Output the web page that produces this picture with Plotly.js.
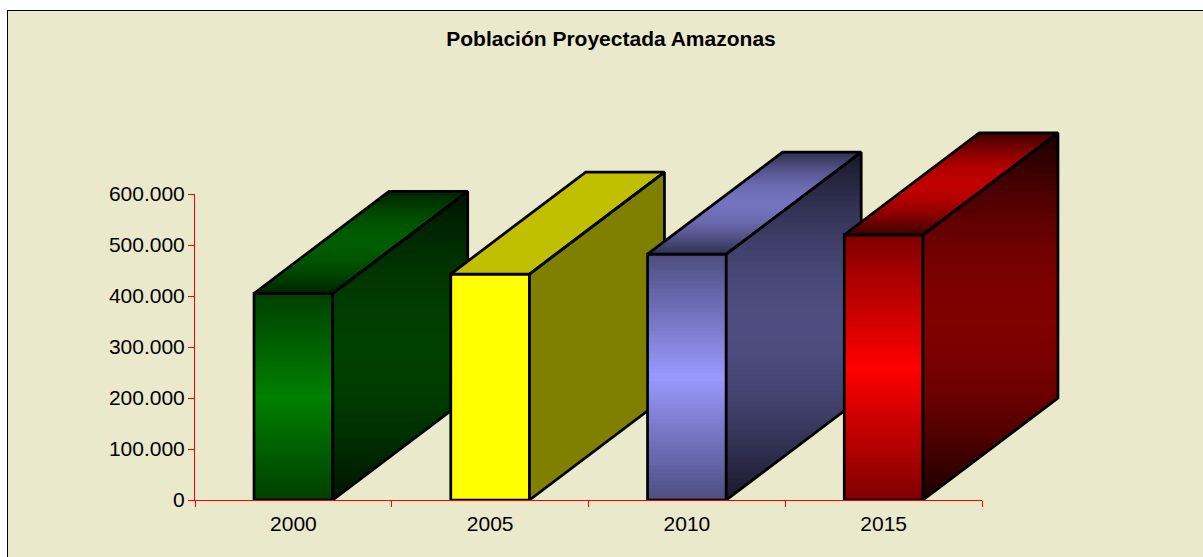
<!DOCTYPE html>
<html>
<head>
<meta charset="utf-8">
<script src="https://cdn.plot.ly/plotly-3.0.1.min.js"></script>
<style>
html,body{margin:0;padding:0;background:#fff;overflow:hidden;width:1203px;height:557px}
#panel{position:absolute;left:7px;top:10px;right:0;bottom:0;background:#ebe9cc;border-left:1px solid #000;border-top:1px solid #000}
#chart{position:absolute;left:0;top:0;width:1203px;height:557px}
</style>
</head>
<body>
<div id="panel"></div>
<div id="chart"></div>
<script>
const titleText = 'Población Proyectada Amazonas';
const years = ['2000', '2005', '2010', '2015'];
const population = [405000, 443000, 482000, 520000];
const yTicks = [0, 100000, 200000, 300000, 400000, 500000, 600000];

// [edge colour, centre colour] of each face, per series
const frontColors = [[[0,64,0],[0,128,0]], [[255,255,0],[255,255,0]], [[77,77,128],[153,153,255]], [[128,0,0],[255,0,0]]];
const topColors   = [[[0,36,0],[0,92,0]], [[192,192,0],[192,192,0]], [[48,48,80],[115,115,191]], [[60,0,0],[192,0,0]]];
const sideColors  = [[[0,20,0],[0,64,0]], [[128,128,0],[128,128,0]], [[24,24,42],[77,77,128]], [[25,0,0],[128,0,0]]];

const barWidth = 0.40;
const depthX = 0.686;
const depthY = 200000;
// visible axes run over xAxisRange / yAxisRange; the hidden axes of the marks run on, so the depth faces fit
const xAxisRange = [-0.5, 3.5];
const yAxisRange = [0, 600000];
const xRange = [-0.5, 3.9066];
const yRange = [0, 725490];
const xAxisDomain = [0, 787 / 867];
const yAxisDomain = [0, 306 / 370];
const STRIPS = 64;

function shade(pair, f, eased) {
  let t = 1 - Math.abs(2 * f - 1);
  if (eased) t = Math.sin(t * Math.PI / 2);
  const c = pair[0].map((e, i) => Math.round(e + (pair[1][i] - e) * t));
  return 'rgb(' + c.join(',') + ')';
}
// part of a polygon that lies at or below a given y level
function clipBelow(poly, level) {
  const out = [];
  for (let i = 0; i < poly.length; i++) {
    const a = poly[i], b = poly[(i + 1) % poly.length];
    if (a[1] <= level) out.push(a);
    if ((a[1] <= level) !== (b[1] <= level)) {
      const k = (level - a[1]) / (b[1] - a[1]);
      out.push([a[0] + (b[0] - a[0]) * k, level]);
    }
  }
  return out;
}
function gradientPolygon(poly, pair, axes) {
  const ys = poly.map(p => p[1]);
  const lo = Math.min(...ys), hi = Math.max(...ys);
  const flat = pair[0].join() === pair[1].join();
  const n = flat ? 1 : STRIPS;
  const res = [];
  for (let k = 0; k < n; k++) {
    // painted from the top down, each one covering all that lies below it
    const f = k / n;
    const clipped = clipBelow(poly, hi - (hi - lo) * f);
    res.push({
      type: 'scatter', mode: 'lines', fill: 'toself',
      x: clipped.map(p => p[0]).concat(clipped[0][0]),
      y: clipped.map(p => p[1]).concat(clipped[0][1]),
      line: {width: 0}, fillcolor: shade(pair, (k + 0.5) / n, true),
      hoverinfo: 'skip', showlegend: false, xaxis: axes[0], yaxis: axes[1]
    });
  }
  return res;
}

const traces = [];
population.forEach((v, i) => {
  const axes = i === 0 ? ['x', 'y'] : ['x' + (i + 1), 'y' + (i + 1)];
  const L = i - barWidth / 2, R = i + barWidth / 2;

  // front face: gradient strips + outlined value bar
  const n = frontColors[i][0].join() === frontColors[i][1].join() ? 1 : STRIPS;
  const idx = Array.from({length: n}, (_, k) => k);
  traces.push({
    type: 'bar', x: idx.map(() => i), base: idx.map(k => v * k / n),
    y: idx.map(k => v - v * k / n), width: barWidth, cliponaxis: false,
    marker: {color: idx.map(k => shade(frontColors[i], (k + 0.5) / n, false)), line: {width: 0}},
    hoverinfo: 'skip', showlegend: false, xaxis: axes[0], yaxis: axes[1]
  });
  traces.push({
    type: 'bar', x: [i], y: [v], width: barWidth, cliponaxis: false, name: years[i],
    marker: {color: 'rgba(0,0,0,0)', line: {width: 2.75, color: '#000'}},
    showlegend: false, xaxis: axes[0], yaxis: axes[1]
  });

  // side and top faces
  const side = [[R, 0], [R + depthX, depthY], [R + depthX, v + depthY], [R, v]];
  const top = [[L, v], [R, v], [R + depthX, v + depthY], [L + depthX, v + depthY]];
  traces.push(...gradientPolygon(side, sideColors[i], axes));
  traces.push(...gradientPolygon(top, topColors[i], axes));
  [side, top].forEach(poly => traces.push({
    type: 'scatter', mode: 'lines',
    x: poly.map(p => p[0]).concat(poly[0][0]),
    y: poly.map(p => p[1]).concat(poly[0][1]),
    line: {width: 2.75, color: '#000'},
    hoverinfo: 'skip', showlegend: false, xaxis: axes[0], yaxis: axes[1]
  }));
});
// empty trace that brings the subplot of the visible axes into being
traces.push({type: 'scatter', mode: 'lines', x: [], y: [], xaxis: 'x5', yaxis: 'y5', hoverinfo: 'skip', showlegend: false});

const tickFont = {family: '"Liberation Sans", Arial, sans-serif', size: 21, color: '#000'};
const layout = {
  width: 1203, height: 557,
  margin: {l: 195, r: 141, t: 130, b: 57, pad: 0},
  paper_bgcolor: 'rgba(0,0,0,0)', plot_bgcolor: 'rgba(0,0,0,0)',
  separators: ',.', barmode: 'overlay', showlegend: false,
  title: {text: '<b>' + titleText + '</b>', xref: 'container', yref: 'container', x: 611 / 1203, y: 1 - 39 / 557,
          xanchor: 'center', yanchor: 'middle',
          font: {family: '"Liberation Sans", Arial, sans-serif', size: 21, color: '#000'}},
  xaxis: {range: xRange, visible: false, fixedrange: true},
  yaxis: {range: yRange, visible: false, fixedrange: true},
  xaxis5: {
    domain: xAxisDomain, anchor: 'y5',
    range: xAxisRange, tickmode: 'array', tickvals: years.map((_, i) => i), ticktext: years,
    ticks: '', ticklabelstandoff: 5, showgrid: false, zeroline: false,
    showline: true, linecolor: '#ff0000', linewidth: 1, tickfont: tickFont, fixedrange: true,
    minor: {tickmode: 'array', tickvals: [-0.5, 0.5, 1.5, 2.5, 3.5], ticks: 'outside', ticklen: 6, tickcolor: '#ff0000', tickwidth: 1, showgrid: false}
  },
  yaxis5: {
    domain: yAxisDomain, anchor: 'x5',
    range: yAxisRange, tickmode: 'array', tickvals: yTicks, tickformat: ',d',
    ticks: 'outside', ticklen: 6, tickcolor: '#ff0000', tickwidth: 1, showgrid: false, zeroline: false,
    ticklabelstandoff: -1,
    showline: true, linecolor: '#ff0000', linewidth: 1, tickfont: tickFont, fixedrange: true
  }
};
for (let i = 2; i <= population.length; i++) {
  layout['xaxis' + i] = {overlaying: 'x', range: xRange, visible: false, fixedrange: true};
  layout['yaxis' + i] = {overlaying: 'y', range: yRange, visible: false, fixedrange: true};
}
Plotly.newPlot('chart', traces, layout, {displayModeBar: false, staticPlot: true});
</script>
</body>
</html>
